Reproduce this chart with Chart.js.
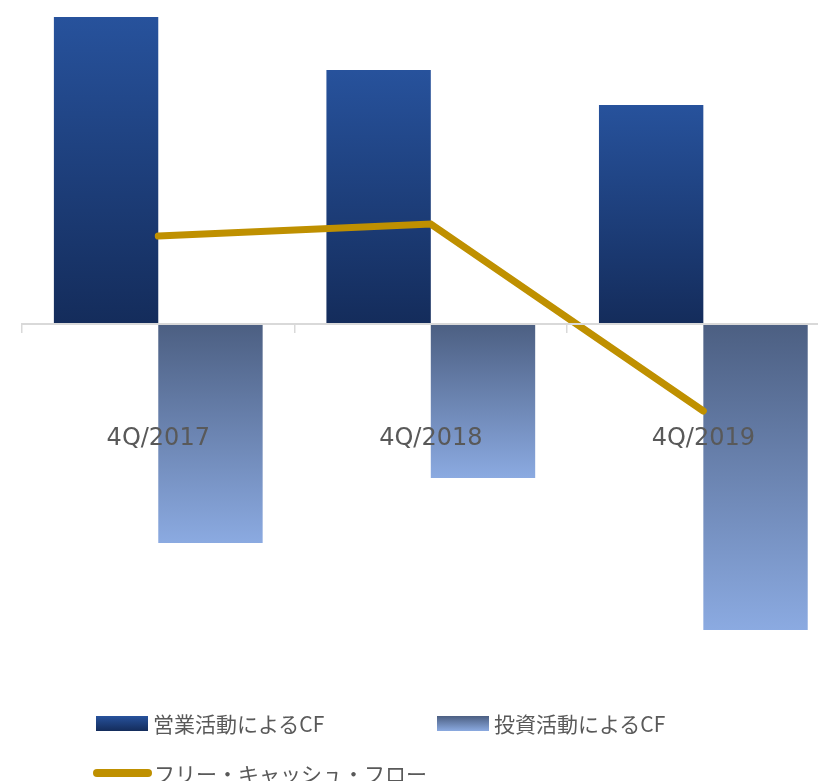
<!DOCTYPE html>
<html lang="ja">
<head>
<meta charset="utf-8">
<title>キャッシュ・フロー</title>
<script src="https://cdn.jsdelivr.net/npm/chart.js@4/dist/chart.umd.min.js"></script>
<style>
  html, body { margin: 0; padding: 0; background: #fff; overflow: hidden; }
  .wrap { position: relative; width: 847px; height: 781px; }
  .legend { position: absolute; left: 0; top: 0; font-family: "Noto Sans CJK JP", sans-serif; font-size: 21px; color: #595959; }
  .legend-item { position: absolute; display: flex; align-items: center; white-space: nowrap; }
  .legend-item .swatch { display: inline-block; margin-right: 5px; }
</style>
</head>
<body>
<div class="wrap">
  <canvas id="cf" width="847" height="781"></canvas>
  <div class="legend" id="legend"></div>
</div>
<script>
const categories = ['4Q/2017', '4Q/2018', '4Q/2019'];
const seriesNames = ['営業活動によるCF', '投資活動によるCF', 'フリー・キャッシュ・フロー'];
const operatingCF = [30.7, 25.4, 21.9];
const investingCF = [-21.9, -15.4, -30.6];
const freeCF = [8.8, 10.0, -8.7];

// bar gradients: [colour at zero, colour at the bar end]
const opColors = ['#142c5b', '#27529c'];
const invColors = ['#4c5f82', '#8baae1'];
const lineColor = '#bf9000';

function barGradient(colors) {
  return (ctx) => {
    const chart = ctx.chart;
    if (!chart.chartArea || ctx.raw === undefined) return colors[0];
    const y = chart.scales.y;
    const g = chart.ctx.createLinearGradient(0, y.getPixelForValue(0), 0, y.getPixelForValue(ctx.raw));
    g.addColorStop(0, colors[0]);
    g.addColorStop(1, colors[1]);
    return g;
  };
}

const chart = new Chart(document.getElementById('cf'), {
  type: 'bar',
  data: {
    labels: categories,
    datasets: [
      {
        label: seriesNames[0],
        data: operatingCF,
        backgroundColor: barGradient(opColors),
        borderWidth: 0,
        order: 1
      },
      {
        label: seriesNames[1],
        data: investingCF,
        backgroundColor: barGradient(invColors),
        borderWidth: 0,
        order: 1
      },
      {
        type: 'line',
        label: seriesNames[2],
        data: freeCF,
        borderColor: lineColor,
        borderWidth: 7,
        borderCapStyle: 'round',
        pointRadius: 0,
        tension: 0,
        fill: false,
        order: 0
      }
    ]
  },
  options: {
    responsive: false,
    animation: false,
    layout: { padding: { left: 22, right: 0, top: 4, bottom: 117 } },
    datasets: {
      bar: { barPercentage: 1, categoryPercentage: 0.766 }
    },
    plugins: {
      legend: { display: false },
      tooltip: { enabled: false }
    },
    scales: {
      y: {
        display: false,
        min: -34,
        max: 32
      },
      x: {
        position: { y: 0 },
        offset: true,
        // axis line, tick marks and labels all sit on top of the bars
        border: { display: true, color: '#d9d9d9', width: 2, z: 1 },
        grid: {
          offset: true,
          drawOnChartArea: false,
          drawTicks: true,
          tickLength: 8,
          color: '#d9d9d9',
          lineWidth: 1.5,
          z: 1
        },
        ticks: {
          z: 2,
          color: '#595959',
          padding: 92,
          font: { family: '"DejaVu Sans", Verdana, sans-serif', size: 24 }
        }
      }
    }
  }
});

// legend drawn as HTML under the plot
const legendPlaces = [
  { left: 96, top: 723 },
  { left: 437, top: 723 },
  { left: 93, top: 773 }
];
const legendEl = document.getElementById('legend');
chart.data.datasets.forEach((ds, i) => {
  const item = document.createElement('div');
  item.className = 'legend-item';
  item.style.left = legendPlaces[i].left + 'px';
  item.style.top = (legendPlaces[i].top - 15) + 'px';
  item.style.height = '30px';
  const sw = document.createElement('span');
  sw.className = 'swatch';
  if (ds.type === 'line') {
    sw.style.width = '59px';
    sw.style.height = '8px';
    sw.style.borderRadius = '4px';
    sw.style.background = lineColor;
    sw.style.marginRight = '2px';
  } else {
    const c = i === 0 ? opColors : invColors;
    sw.style.width = '52px';
    sw.style.height = '15px';
    sw.style.background = i === 0
      ? 'linear-gradient(to bottom, ' + c[1] + ', ' + c[0] + ')'
      : 'linear-gradient(to bottom, ' + c[0] + ', ' + c[1] + ')';
  }
  item.appendChild(sw);
  item.appendChild(document.createTextNode(ds.label));
  legendEl.appendChild(item);
});
</script>
</body>
</html>
